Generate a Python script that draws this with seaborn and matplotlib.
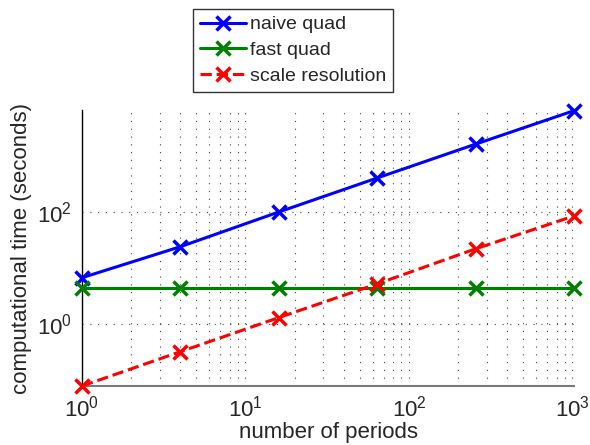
import numpy as np
import pandas as pd
import matplotlib
matplotlib.use("Agg")
import matplotlib.pyplot as plt
from matplotlib.ticker import LogLocator, NullLocator, NullFormatter
import seaborn as sns

# Number of periods tested
periods = [1, 4, 16, 64, 256, 1024]

# Computational time (seconds) for each method
naive_quad = [6.7, 24, 100, 405, 1630, 6450]
fast_quad = [4.4, 4.4, 4.4, 4.4, 4.4, 4.4]
scale_resolution = [0.078, 0.32, 1.3, 5.2, 22, 85]

series_names = ["naive quad", "fast quad", "scale resolution"]

df = pd.DataFrame({
    "periods": periods * 3,
    "time": naive_quad + fast_quad + scale_resolution,
    "method": [series_names[0]] * 6 + [series_names[1]] * 6 + [series_names[2]] * 6,
})

sns.set_style("white")
plt.rcParams["font.family"] = ["Liberation Sans", "DejaVu Sans"]
plt.rcParams["mathtext.fontset"] = "custom"
plt.rcParams["mathtext.rm"] = "Liberation Sans"
plt.rcParams["mathtext.it"] = "Liberation Sans"

fig = plt.figure(figsize=(5.9, 4.45), dpi=100)
ax = fig.add_axes([0.139, 0.1326, 0.834, 0.620])

palette = {"naive quad": (0, 0, 1), "fast quad": (0, 0.5, 0), "scale resolution": (1, 0, 0)}
styles = {"naive quad": "-", "fast quad": "-", "scale resolution": "--"}

for name in series_names:
    sub = df[df["method"] == name]
    sns.lineplot(data=sub, x="periods", y="time", ax=ax, color=palette[name],
                 linestyle=styles[name], linewidth=2.2, marker="x",
                 markersize=10, markeredgewidth=2.5, markeredgecolor=palette[name],
                 label=name, clip_on=False, zorder=3)

ax.set_xscale("log")
ax.set_yscale("log")
ax.set_xlim(1, 1024)
ax.set_ylim(0.078, 6600)

ax.set_yticks([1, 100])
ax.yaxis.set_minor_locator(NullLocator())
ax.xaxis.set_major_locator(LogLocator(base=10, numticks=10))
ax.xaxis.set_minor_locator(LogLocator(base=10, subs=np.arange(2, 10), numticks=20))
ax.xaxis.set_minor_formatter(NullFormatter())

dots = (0, (1, 6))
ax.grid(True, which="major", axis="both", linestyle=dots, color="#444444", linewidth=0.8)
ax.grid(True, which="minor", axis="x", linestyle=dots, color="#444444", linewidth=0.8)

for s in ["top", "right"]:
    ax.spines[s].set_visible(False)
ax.spines["left"].set_color("black")
ax.spines["left"].set_linewidth(1.0)
ax.spines["bottom"].set_color("#7a7a7a")
ax.spines["bottom"].set_linewidth(1.5)

ax.tick_params(axis="both", which="major", direction="in", length=4, labelsize=16, pad=7)
ax.tick_params(axis="x", which="minor", direction="in", length=2)

ax.set_xlabel("number of periods", fontsize=16, labelpad=0)
ax.set_ylabel("computational time (seconds)", fontsize=16, labelpad=4)

leg = ax.legend(loc="upper left", bbox_to_anchor=(0.327, 0.98), bbox_transform=fig.transFigure,
                fontsize=14, frameon=True, fancybox=False, edgecolor="black",
                handlelength=2.4, handletextpad=0.2, borderpad=0.35, labelspacing=0.42,
                borderaxespad=0)
leg.get_frame().set_linewidth(1.0)

fig.savefig("out.png", dpi=100)
